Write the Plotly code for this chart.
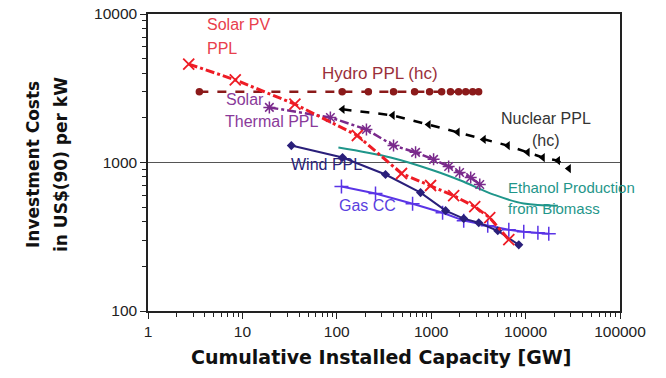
import plotly.graph_objects as go

# Data
solar_pv_x = [2.7, 8.4, 36, 165, 485, 985, 1730, 2890, 4170, 6640]
solar_pv_y = [4600, 3600, 2470, 1520, 843, 700, 598, 504, 425, 302]

hydro_x = [3.5, 114, 216, 399, 667, 961, 1290, 1600, 1950, 2320, 2750, 3180]
hydro_y = [3000] * 12

nuclear_x = [115, 390, 938, 1905, 3600, 6470, 10500, 15200, 22000, 28700]
nuclear_y = [2280, 2080, 1800, 1600, 1430, 1300, 1170, 1080, 1030, 910]

solar_th_x = [19.3, 85.5, 206, 399, 683, 1060, 1530, 2000, 2620, 3270]
solar_th_y = [2350, 2010, 1670, 1300, 1170, 1050, 940, 856, 792, 710]

wind_x = [33, 115, 328, 771, 1420, 2210, 3190, 5070, 8470]
wind_y = [1300, 1080, 830, 627, 474, 419, 393, 347, 279]

ethanol_x = [104, 371, 1060, 2050, 4590, 9550, 22000]
ethanol_y = [1260, 1080, 883, 756, 608, 529, 512]

gas_x = [112, 257, 635, 1320, 2210, 3970, 6640, 9560, 13500, 17600]
gas_y = [689, 618, 528, 459, 406, 375, 352, 342, 337, 331]

x_ticks = [1, 10, 100, 1000, 10000, 100000]
y_ticks = [100, 1000, 10000]
x_minor = [m * 10 ** d for d in range(0, 5) for m in range(2, 10)]
y_minor = [m * 10 ** d for d in range(2, 4) for m in range(2, 10)]

FONT = "Liberation Sans, Arial, sans-serif"
BOLD_FONT = "DejaVu Sans, Liberation Sans, sans-serif"

C_PV = "#ee1c25"
C_HYDRO = "#8b1a1a"
C_NUC = "#000000"
C_STH = "#7a2a8c"
C_WIND = "#2a1f7a"
C_ETH = "#1f968a"
C_GAS = "#5a34e6"

W, H = 666, 378
# plot area in pixels
L, R, T, B = 148, 620, 14, 311

fig = go.Figure()

fig.add_trace(go.Scatter(x=hydro_x, y=hydro_y, mode="lines+markers",
                         line=dict(color=C_HYDRO, width=2.5, dash="dash"),
                         marker=dict(symbol="circle", size=7.5, color=C_HYDRO)))
fig.add_trace(go.Scatter(x=nuclear_x, y=nuclear_y, mode="lines+markers",
                         line=dict(color=C_NUC, width=2.5, dash="dash"),
                         marker=dict(symbol="triangle-left", size=8, color=C_NUC)))
fig.add_trace(go.Scatter(x=ethanol_x, y=ethanol_y, mode="lines",
                         line=dict(color=C_ETH, width=2), line_shape="spline"))
fig.add_trace(go.Scatter(x=solar_th_x, y=solar_th_y, mode="lines+markers",
                         line=dict(color=C_STH, width=2.5, dash="dashdot"),
                         marker=dict(symbol="asterisk-open", size=10,
                                     line=dict(color=C_STH, width=1.5))))
fig.add_trace(go.Scatter(x=gas_x, y=gas_y, mode="lines+markers",
                         line=dict(color=C_GAS, width=2),
                         marker=dict(symbol="cross-thin-open", size=10,
                                     line=dict(color=C_GAS, width=1.5))))
fig.add_trace(go.Scatter(x=wind_x, y=wind_y, mode="lines+markers",
                         line=dict(color=C_WIND, width=2),
                         marker=dict(symbol="diamond", size=7, color=C_WIND)))
fig.add_trace(go.Scatter(x=solar_pv_x, y=solar_pv_y, mode="lines+markers",
                         line=dict(color=C_PV, width=3, dash="dashdot"),
                         marker=dict(symbol="x-thin-open", size=11,
                                     line=dict(color=C_PV, width=1.8))))

# helpers: convert screen pixel positions to data / paper coords
def px_to_x(px):
    return (px - L) / (R - L) * 5

def px_to_y(py):
    return 2 + (B - py) / (B - T) * 2

def px_to_paper_x(px):
    return (px - L) / (R - L)

def px_to_paper_y(py):
    return (B - py) / (B - T)

def label(text, px, py, color, size=16):
    fig.add_annotation(text=text, x=px_to_x(px), y=px_to_y(py), xref="x", yref="y",
                       showarrow=False, xanchor="left", yanchor="middle",
                       font=dict(family=FONT, size=size, color=color))

label("Solar PV", 205, 24, "#e8404c")
label("PPL", 205, 48, "#e8404c")
label("Hydro PPL (hc)", 320, 73, "#9a2f3a", 17)
label("Solar", 224, 99, "#8a3a9a")
label("Thermal PPL", 223, 121, "#8a3a9a")
label("Nuclear PPL", 499, 118, "#333333")
label("(hc)", 530, 140, "#333333")
label("Wind PPL", 289, 164, "#2a1f7a")
label("Gas CC", 337, 205, "#5a3fe0")
label("Ethanol Production", 506, 187, "#1f968a", 15)
label("from Biomass", 506, 208, "#1f968a", 15)

# axis titles
fig.add_annotation(text="<b>Cumulative Installed Capacity [GW]</b>", xref="paper", yref="paper",
                   x=px_to_paper_x(381), y=px_to_paper_y(357), showarrow=False,
                   xanchor="center", yanchor="middle",
                   font=dict(family=BOLD_FONT, size=19, color="#111"))
fig.add_annotation(text="<b>Investment Costs</b>", xref="paper", yref="paper",
                   x=px_to_paper_x(33), y=px_to_paper_y(165), showarrow=False,
                   textangle=-90, xanchor="center", yanchor="middle",
                   font=dict(family=BOLD_FONT, size=17, color="#111"))
fig.add_annotation(text="<b>in US$(90) per kW</b>", xref="paper", yref="paper",
                   x=px_to_paper_x(61), y=px_to_paper_y(165), showarrow=False,
                   textangle=-90, xanchor="center", yanchor="middle",
                   font=dict(family=BOLD_FONT, size=17, color="#111"))

axis_common = dict(type="log", showline=True, linecolor="#222", linewidth=1.5,
                   mirror=True, ticks="outside", ticklen=6, tickcolor="#222",
                   tickfont=dict(family=FONT, size=15.5, color="#222"),
                   ticklabeloverflow="allow",
                   zeroline=False, automargin=False)

fig.update_xaxes(**axis_common, range=[0, 5], tickmode="array", tickvals=x_ticks,
                 ticktext=[str(v) for v in x_ticks], showgrid=False,
                 minor=dict(tickmode="array", tickvals=x_minor, ticks="outside",
                            ticklen=4, tickcolor="#222", showgrid=False))
fig.update_yaxes(**axis_common, range=[2, 4], tickmode="array", tickvals=y_ticks,
                 ticktext=[str(v) for v in y_ticks], showgrid=True,
                 gridcolor="#555", gridwidth=1,
                 minor=dict(tickmode="array", tickvals=y_minor, ticks="outside",
                            ticklen=4, tickcolor="#222", showgrid=False))

fig.update_layout(width=W, height=H, showlegend=False,
                  plot_bgcolor="white", paper_bgcolor="white",
                  margin=dict(l=L, r=W - R, t=T, b=H - B, autoexpand=False),
                  font=dict(family=FONT))

# remove the browser's default page margin so the figure sits at the window's corner
fig.write_html("out.html",
               config={"displayModeBar": False},
               post_script="document.body.style.margin='0';document.body.style.overflow='hidden';")
